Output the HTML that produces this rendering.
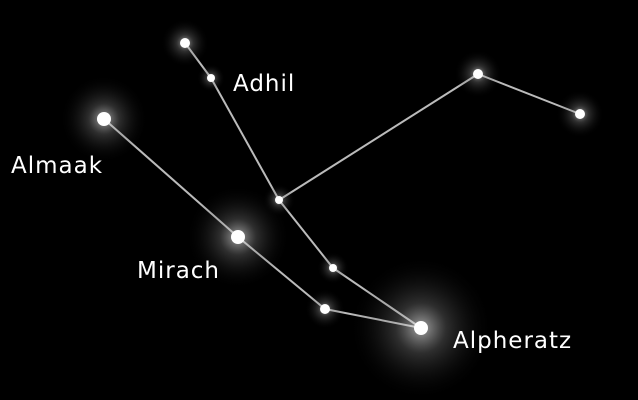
<!DOCTYPE html>
<html><head><meta charset="utf-8"><style>
html,body{margin:0;padding:0;background:#000;}
svg{display:block;}
text{font-family:"DejaVu Sans","Liberation Sans",sans-serif;fill:#fff;font-size:23px;letter-spacing:1px;}
</style></head><body>
<svg id="c" width="638" height="400" viewBox="0 0 638 400">
<defs>
<radialGradient id="glow"><stop offset="0" stop-color="#fff" stop-opacity="0.65"/><stop offset="0.35" stop-color="#999" stop-opacity="0.3"/><stop offset="1" stop-color="#000" stop-opacity="0"/></radialGradient>
</defs>
<rect width="638" height="400" fill="#000"/>
<g id="lines"></g><g id="stars"></g><g id="labels"></g>
</svg>
<script>
const starNames=["s1","adhil","almaak","s4","mirach","s6","s7","alpheratz","s9","s10"];
const starX=[185,211,104,279,238,333,325,421,478,580];
const starY=[43,78,119,200,237,268,309,328,74,114];
const starSize=[5,4,7,4,7,4,5,7,5,5];
const glowSize=[24,14,44,16,52,16,20,72,24,24];
const edges=[[0,1],[1,3],[3,5],[5,7],[2,4],[4,6],[6,7],[3,8],[8,9]];
const labelText=["Adhil","Almaak","Mirach","Alpheratz"];
const labelX=[233,11,137,453];
const labelY=[91,173,278,348];
const ns="http://www.w3.org/2000/svg";
const L=document.getElementById('lines'),S=document.getElementById('stars'),T=document.getElementById('labels');
edges.forEach(e=>{const l=document.createElementNS(ns,'line');


l.setAttribute('x1',starX[e[0]]);l.setAttribute('y1',starY[e[0]]);l.setAttribute('x2',starX[e[1]]);l.setAttribute('y2',starY[e[1]]);
l.setAttribute('stroke','#bbb');l.setAttribute('stroke-width','2');L.appendChild(l);});
starX.forEach((x,i)=>{const g=document.createElementNS(ns,'circle');


g.setAttribute('cx',x);g.setAttribute('cy',starY[i]);g.setAttribute('r',glowSize[i]);g.setAttribute('fill','url(#glow)');S.appendChild(g);
const c=document.createElementNS(ns,'circle');


c.setAttribute('cx',x);c.setAttribute('cy',starY[i]);c.setAttribute('r',starSize[i]);c.setAttribute('fill','#fff');S.appendChild(c);});
labelText.forEach((t,i)=>{const e=document.createElementNS(ns,'text');


e.setAttribute('x',labelX[i]);e.setAttribute('y',labelY[i]);e.textContent=t;T.appendChild(e);});
</script>
</body></html>
